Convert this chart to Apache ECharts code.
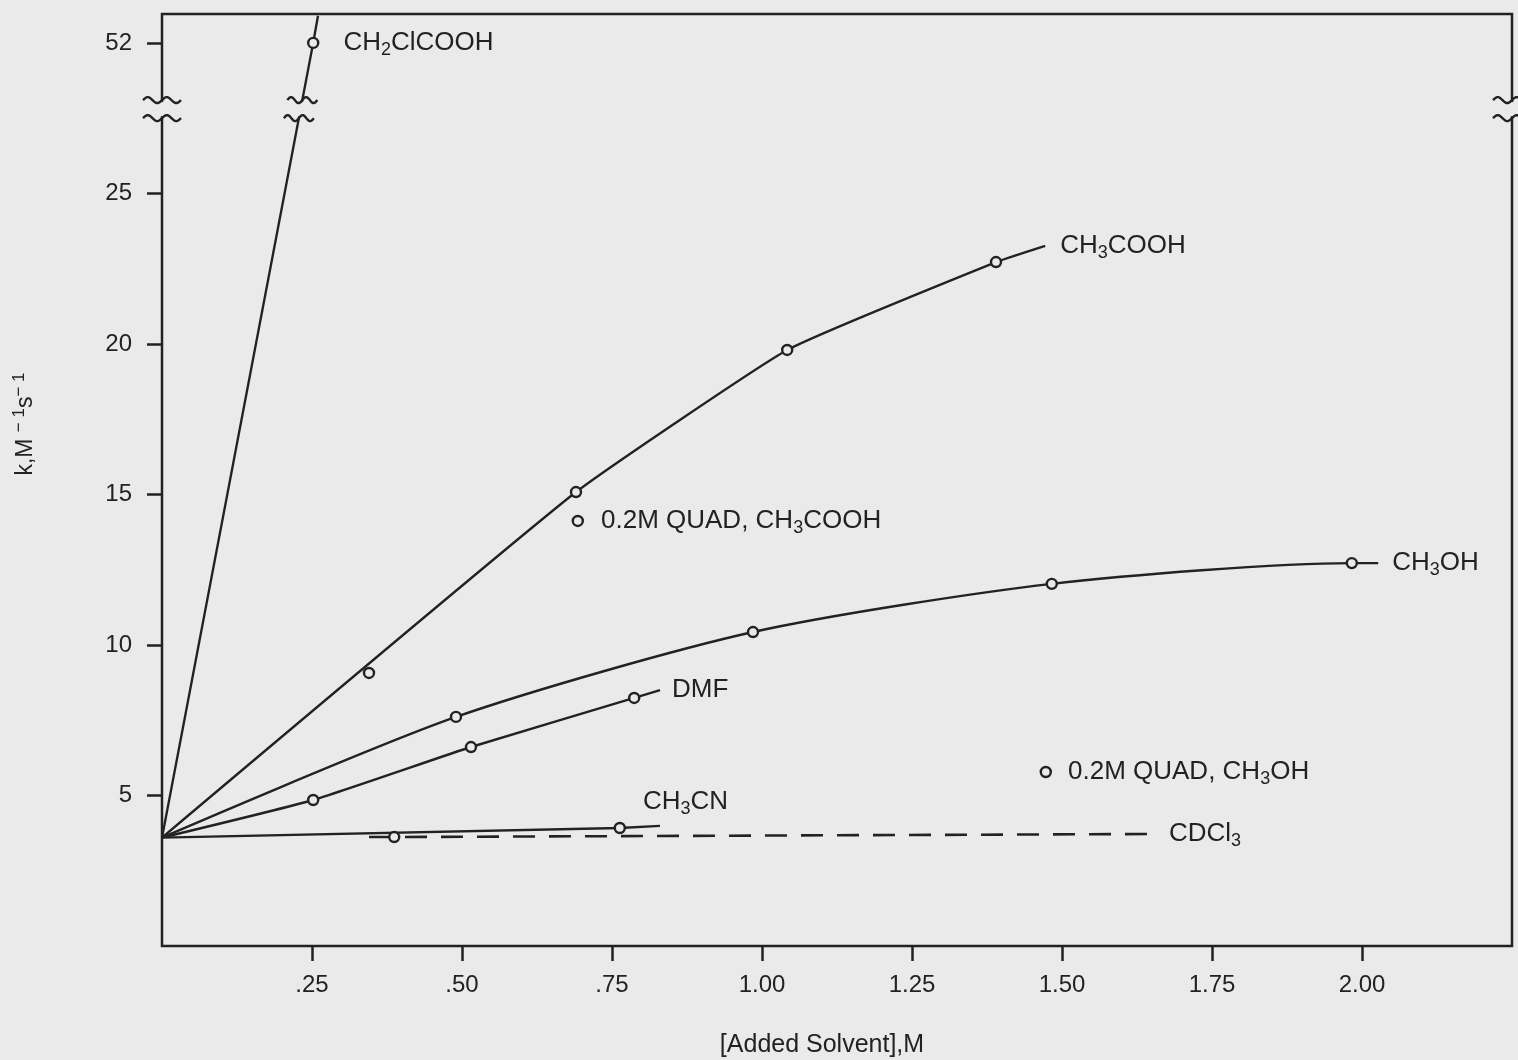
<!DOCTYPE html>
<html><head><meta charset="utf-8">
<script src="https://cdn.jsdelivr.net/npm/echarts@6/dist/echarts.min.js"></script>
<style>html,body{margin:0;padding:0;background:#eaeaea}#c{width:1518px;height:1060px}</style>
</head><body><div id="c"></div>
<script>
// ---------- data ----------
const xTickValues = [0.25, 0.50, 0.75, 1.00, 1.25, 1.50, 1.75, 2.00];
const xTickLabels = ['.25', '.50', '.75', '1.00', '1.25', '1.50', '1.75', '2.00'];
const yTickValues = [5, 10, 15, 20, 25, 52];
const yTickLabels = ['5', '10', '15', '20', '25', '52'];

const ch2clcoohX = [0, 0.252, 0.26];
const ch2clcoohY = [3.6, 52, 52.9];
// CH3COOH: fitted curve with its points, plus one measured point lying just off the curve
const ch3coohX = [0, 0.69, 1.042, 1.39, 1.472];
const ch3coohY = [3.6, 15.08, 19.8, 22.72, 23.26];
const ch3coohOffX = [0.345];
const ch3coohOffY = [9.07];
const ch3ohX = [0, 0.49, 0.985, 1.483, 1.983, 2.027];
const ch3ohY = [3.6, 7.61, 10.43, 12.03, 12.72, 12.72];
const dmfX = [0, 0.252, 0.515, 0.787, 0.83];
const dmfY = [3.6, 4.85, 6.61, 8.24, 8.5];
const ch3cnX = [0, 0.763, 0.83];
const ch3cnY = [3.6, 3.92, 3.99];
const cdcl3X = [0.345, 0.387, 1.645];
const cdcl3Y = [3.62, 3.62, 3.72];
const quadAcX = [0.693];
const quadAcY = [14.12];
const quadMeX = [1.473];
const quadMeY = [5.78];

// ---------- presentation ----------
const BG = '#eaeaea', INK = '#222';
const FONT = '"Liberation Sans", Arial, Helvetica, sans-serif';
// broken y axis: values above the break are drawn shifted down
const BREAK_REAL = 40, BREAK_SHIFT = 22;
const BREAK_MARKS = [27.5, 28.1];   // display positions of the two break waves
function disp(v) { return v > BREAK_REAL ? v - BREAK_SHIFT : v; }
function pts(xs, ys) { return xs.map((x, i) => [x, disp(ys[i])]); }
const yTickDisp = yTickValues.map(disp);

const RICH = {
  s: { fontSize: 18, lineHeight: 20, verticalAlign: 'bottom', color: INK, fontFamily: FONT }
};
const LABEL = { color: INK, fontSize: 26, lineHeight: 32, fontFamily: FONT, rich: RICH };
const MARK_STYLE = { color: BG, borderColor: INK, borderWidth: 2.4, opacity: 1 };

function mkLine(name, xs, ys, marks, extra) {
  const data = pts(xs, ys).map((p, i) => ({ value: p, symbol: marks.includes(i) ? 'circle' : 'none' }));
  return Object.assign({
    type: 'line', name, data, smooth: 0.25, showAllSymbol: true, symbolSize: 10,
    lineStyle: { color: INK, width: 2.4 },
    itemStyle: MARK_STYLE,
    emphasis: { disabled: true }, z: 3
  }, extra);
}
function endLab(text, distance, offset) {
  return { show: true, formatter: () => text, distance: distance, offset: offset || [0, 0],
           color: INK, fontSize: 26, lineHeight: 32, fontFamily: FONT, rich: RICH };
}
function mkPoints(name, xs, ys, labelText, distance) {
  const s = { type: 'scatter', name, data: pts(xs, ys), symbol: 'circle', symbolSize: 10,
    itemStyle: MARK_STYLE, emphasis: { disabled: true }, z: 4 };
  if (labelText) s.label = Object.assign({ show: true, position: 'right', distance: distance, formatter: () => labelText }, LABEL);
  return s;
}

const ch2Series = mkLine('CH2ClCOOH', ch2clcoohX, ch2clcoohY, [1], { smooth: false });
ch2Series.data[1].label = Object.assign({ show: true, position: 'right', distance: 24,
  formatter: () => 'CH{s|2}ClCOOH' }, LABEL);

const option = {
  backgroundColor: BG,
  animation: false,
  grid: { left: 162, top: 14, width: 1350, height: 932, containLabel: false, outerBoundsMode: 'none',
          show: true, borderColor: INK, borderWidth: 2.5, backgroundColor: 'transparent' },
  xAxis: {
    type: 'value', min: 0, max: 2.25, interval: 0.25,
    axisLine: { show: false }, splitLine: { show: false },
    axisTick: { show: true, customValues: xTickValues, length: 15, lineStyle: { color: INK, width: 2.5 } },
    axisLabel: { customValues: xTickValues, margin: 27, color: INK, fontSize: 24, fontFamily: FONT,
      formatter: v => { const i = xTickValues.findIndex(t => Math.abs(t - v) < 1e-6); return i < 0 ? '' : xTickLabels[i]; } },
    name: '[Added Solvent],M', nameLocation: 'middle', nameGap: 87,
    nameTextStyle: { color: INK, fontSize: 25, fontFamily: FONT, padding: [0, 30, 0, 0] }
  },
  yAxis: {
    type: 'value', min: 0, max: 30.96, interval: 5,
    axisLine: { show: false }, splitLine: { show: false },
    axisTick: { show: true, customValues: yTickDisp, length: 15, lineStyle: { color: INK, width: 2.5 } },
    axisLabel: { customValues: yTickDisp, margin: 30, color: INK, fontSize: 24, fontFamily: FONT,
      formatter: v => { const i = yTickDisp.findIndex(t => Math.abs(t - v) < 1e-6); return i < 0 ? '' : yTickLabels[i]; } },
    name: 'k,M {u|− 1}s{u|− 1}', nameLocation: 'middle', nameGap: 121,
    nameTextStyle: { color: INK, fontSize: 23, lineHeight: 30, fontFamily: FONT, padding: [0, 0, 0, 112],
      rich: { u: { fontSize: 17, lineHeight: 16, verticalAlign: 'top', color: INK, fontFamily: FONT } } }
  },
  series: [
    ch2Series,
    mkLine('CH3COOH', ch3coohX, ch3coohY, [1, 2, 3], { smooth: 0.12, endLabel: endLab('CH{s|3}COOH', 15) }),
    mkPoints('CH3COOH point', ch3coohOffX, ch3coohOffY),
    mkLine('CH3OH', ch3ohX, ch3ohY, [1, 2, 3, 4], { endLabel: endLab('CH{s|3}OH', 14) }),
    mkLine('DMF', dmfX, dmfY, [1, 2, 3], { smooth: 0.15, endLabel: endLab('DMF', 12) }),
    mkLine('CH3CN', ch3cnX, ch3cnY, [1], { smooth: false, endLabel: endLab('CH{s|3}CN', 5, [-22, -24]) }),
    mkLine('CDCl3', cdcl3X, cdcl3Y, [1], { smooth: false, lineStyle: { color: INK, width: 2.6, type: [22, 14] },
      endLabel: endLab('CDCl{s|3}', 20) }),
    mkPoints('QUAD CH3COOH', quadAcX, quadAcY, '0.2M QUAD, CH{s|3}COOH', 17),
    mkPoints('QUAD CH3OH', quadMeX, quadMeY, '0.2M QUAD, CH{s|3}OH', 16)
  ]
};

const chart = echarts.init(document.getElementById('c'), null, { renderer: 'canvas' });
chart.setOption(option);

// ---------- axis-break marks, placed through the axes ----------
function px(x, y) { return chart.convertToPixel({ gridIndex: 0 }, [x, y]); }
function wave(cx, cy, w) {
  const p = [];
  for (let i = 0; i <= 28; i++) { const t = i / 28; p.push([cx - w / 2 + t * w, cy - 3 * Math.sin(t * 4 * Math.PI)]); }
  return { type: 'polyline', shape: { points: p }, style: { stroke: INK, lineWidth: 2.4, fill: null }, z: 101 };
}
const line0 = pts(ch2clcoohX, ch2clcoohY);
function lineXAt(yd) {
  const a = line0[0], b = line0[1];
  return a[0] + (yd - a[1]) / (b[1] - a[1]) * (b[0] - a[0]);
}
const gEls = [];
const yLo = px(0, BREAK_MARKS[0])[1], yHi = px(0, BREAK_MARKS[1])[1];
[0, 2.25].forEach(xv => {
  const ax = px(xv, 0)[0];
  gEls.push({ type: 'rect', shape: { x: ax - 5, y: yHi + 2, width: 10, height: yLo - yHi - 4 }, style: { fill: BG }, z: 100 });
  gEls.push(wave(ax, yHi, 38));
  gEls.push(wave(ax, yLo, 38));
});
const lxHi = px(lineXAt(BREAK_MARKS[1]), 0)[0], lxLo = px(lineXAt(BREAK_MARKS[0]), 0)[0];
gEls.push({ type: 'rect', shape: { x: Math.min(lxHi, lxLo) - 6, y: yHi + 2, width: Math.abs(lxHi - lxLo) + 12, height: yLo - yHi - 4 },
            style: { fill: BG }, z: 100 });
gEls.push(wave(lxHi, yHi, 30));
gEls.push(wave(lxLo, yLo, 30));
chart.setOption({ graphic: gEls });
</script>
</body></html>
